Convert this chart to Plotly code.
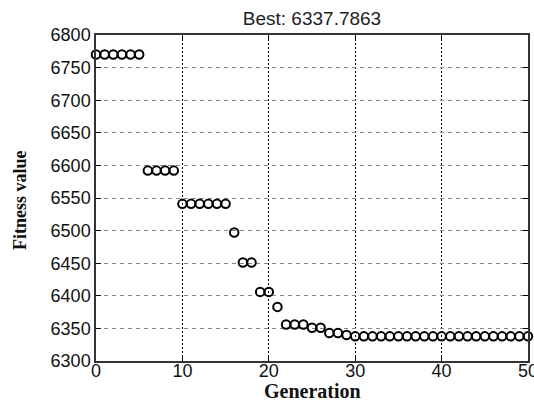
import plotly.graph_objects as go

generation = list(range(0, 51))
fitness = ([6770] * 6 + [6592] * 4 + [6541] * 6 + [6497] + [6451] * 2 + [6406] * 2 +
           [6383] + [6356] * 3 + [6351] * 2 + [6343] * 2 + [6340] + [6337.7863] * 21)

x_ticks = [0, 10, 20, 30, 40, 50]
y_ticks = [6300, 6350, 6400, 6450, 6500, 6550, 6600, 6650, 6700, 6750, 6800]

W, H = 534, 403
fig = go.Figure()
fig.add_trace(go.Scatter(
    x=generation, y=fitness, mode="markers",
    marker=dict(symbol="circle-open", size=8.5, color="black", line=dict(width=2, color="black")),
    showlegend=False, cliponaxis=False,
))

fig.update_layout(
    width=W, height=H,
    margin=dict(l=96, r=6, t=35, b=42, autoexpand=False),
    paper_bgcolor="white", plot_bgcolor="white",
    title=dict(text="Best: 6337.7863", x=(96 + 528) / 2 / W, xanchor="center",
               y=1 - 18 / H, yanchor="middle",
               font=dict(family="Liberation Sans, Arial", size=19, color="#222")),
    font=dict(family="Liberation Sans, Arial", size=18, color="#111"),
    annotations=[
        dict(text="<b>Generation</b>", xref="paper", yref="paper",
             x=0.5, y=-(391 - 361) / (H - 35 - 42), xanchor="center", yanchor="middle",
             showarrow=False,
             font=dict(family="Liberation Serif, Times New Roman", size=20, color="#111")),
        dict(text="<b>Fitness value</b>", xref="paper", yref="paper", textangle=-90,
             x=-(96 - 20) / (W - 96 - 6), y=(361 - 200) / (H - 35 - 42),
             xanchor="center", yanchor="middle", showarrow=False,
             font=dict(family="Liberation Serif, Times New Roman", size=18, color="#111")),
    ],
)
fig.update_xaxes(
    range=[0, 50], tickvals=x_ticks, ticks="inside", ticklen=5, tickcolor="black",
    ticklabeloverflow="allow", automargin=False, ticklabelstandoff=-7,
    showline=True, linecolor="#333", linewidth=1.5, mirror="ticks",
    showgrid=True, gridcolor="black", griddash="2px,2px", gridwidth=1,
    zeroline=False,
)
fig.update_yaxes(
    range=[6300, 6800], tickvals=y_ticks, ticks="inside", ticklen=5, tickcolor="black",
    automargin=False,
    showline=True, linecolor="#333", linewidth=1.5, mirror="ticks",
    showgrid=True, gridcolor="#888", griddash="4px,4px", gridwidth=1.2,
    zeroline=False,
)

fig.write_html("out.html")
